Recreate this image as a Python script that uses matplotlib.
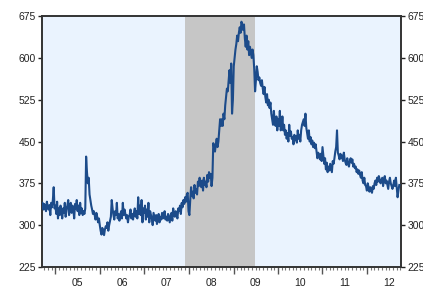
import matplotlib
matplotlib.use("Agg")
import matplotlib.pyplot as plt
import matplotlib.dates as mdates
import pandas as pd
import numpy as np

# Weekly initial claims (thousands), starting week of 2004-09-04
claims_2004 = [345, 335, 340, 328, 338, 330, 325, 342, 333, 328, 336, 318, 340, 332, 345, 368, 330]
claims_2005 = [335, 320, 342, 312, 330, 318, 335, 325, 312, 330, 322, 340, 315,
               328, 335, 345, 318, 330, 340, 322, 335, 328, 312, 338, 330, 345,
               325, 335, 318, 340, 322, 330, 318, 325, 320, 330, 423, 395, 375,
               385, 355, 345, 335, 328, 320, 325, 318, 310, 322, 315, 305, 312]
claims_2006 = [300, 290, 283, 295, 288, 282, 292, 298, 295, 305, 290, 300, 308,
               315, 345, 330, 318, 310, 325, 318, 340, 312, 320, 308, 318, 325,
               312, 340, 318, 328, 320, 312, 318, 305, 315, 318, 328, 312, 320,
               310, 322, 330, 315, 325, 312, 350, 320, 335, 318, 345, 305, 330]
claims_2007 = [322, 335, 310, 328, 315, 340, 305, 325, 318, 312, 300, 322, 315,
               308, 318, 302, 312, 320, 305, 315, 310, 322, 312, 318, 325, 310,
               315, 308, 320, 312, 305, 318, 322, 308, 330, 320, 315, 325, 318,
               312, 330, 325, 335, 320, 340, 332, 345, 338, 350, 342, 355, 358]
claims_2008 = [325, 318, 345, 368, 352, 360, 348, 372, 358, 365, 355, 378, 370,
               385, 372, 368, 380, 362, 385, 372, 378, 368, 390, 378, 395, 385,
               392, 370, 385, 447, 440, 432, 445, 455, 440, 450, 470, 490, 478,
               490, 478, 500, 490, 515, 530, 545, 540, 560, 578, 555, 590, 500]
claims_2009 = [525, 585, 600, 615, 625, 640, 630, 645, 655, 645, 665, 660, 650,
               660, 635, 620, 640, 615, 630, 605, 620, 610, 600, 615, 605, 580,
               540, 560, 585, 575, 560, 565, 555, 550, 560, 545, 535, 548, 530,
               520, 535, 515, 525, 510, 520, 500, 490, 480, 505, 485, 478, 495]
claims_2010 = [470, 490, 478, 505, 470, 475, 495, 470, 480, 462, 470, 455, 465,
               450, 480, 460, 468, 455, 458, 445, 462, 452, 460, 448, 470, 455,
               462, 450, 470, 480, 485, 490, 478, 500, 475, 465, 455, 470, 450,
               458, 445, 452, 440, 448, 438, 445, 432, 420, 430, 425, 418, 428]
claims_2011 = [415, 440, 425, 410, 420, 400, 412, 395, 405, 398, 410, 402, 395,
               415, 410, 420, 432, 440, 470, 430, 425, 418, 428, 420, 425, 415,
               430, 418, 412, 408, 420, 410, 405, 415, 420, 412, 418, 405, 410,
               402, 405, 395, 400, 392, 398, 390, 385, 395, 380, 375, 385, 372]
claims_2012 = [370, 362, 375, 368, 360, 368, 362, 358, 370, 365, 375, 380, 372,
               385, 378, 388, 382, 375, 380, 385, 370, 382, 388, 375, 380, 372,
               365, 378, 385, 375, 370, 365, 372, 380, 370, 385, 368, 350, 362, 372]

claims = (claims_2004 + claims_2005 + claims_2006 + claims_2007 + claims_2008 +
          claims_2009 + claims_2010 + claims_2011 + claims_2012)
start_week = "2004-09-04"
recession = ("2007-12-01", "2009-06-30")
year_labels = ["05", "06", "07", "08", "09", "10", "11", "12"]
y_ticks = [225, 300, 375, 450, 525, 600, 675]

dates = pd.date_range(start_week, periods=len(claims), freq="W-SAT")

plt.rcParams["font.family"] = ["Liberation Sans", "DejaVu Sans"]
fig = plt.figure(figsize=(4.23, 2.93), dpi=100)
ax = fig.add_axes([0.099, 0.089, 0.849, 0.856])
ax.set_facecolor("#eaf3fe")

ax.axvspan(pd.Timestamp(recession[0]), pd.Timestamp(recession[1]),
           color="#c6c6c6", lw=0, zorder=1)
ax.plot(dates, claims, color="#1c4b8a", lw=1.5, zorder=3)

ax.set_xlim(pd.Timestamp("2004-09-12"), pd.Timestamp("2012-10-06"))
ax.set_ylim(225, 675)

ax.set_yticks(y_ticks)
ax.tick_params(axis="y", which="both", direction="out", length=3, width=1,
               labelsize=7.5, colors="#222222", right=True, labelright=True, pad=1.5)

# x axis: year-boundary major ticks, monthly minor, labels mid-year
ax.xaxis.set_major_locator(mdates.YearLocator())
ax.xaxis.set_minor_locator(mdates.MonthLocator())
ax.xaxis.set_major_formatter(plt.NullFormatter())
ax.tick_params(axis="x", which="major", direction="out", length=5, width=1, colors="#555555")
ax.tick_params(axis="x", which="minor", direction="out", length=2, width=0.8, colors="#777777")
for i, lab in enumerate(year_labels):
    yr = 2005 + i
    ax.text(pd.Timestamp(f"{yr}-07-02"), -0.045, lab, transform=ax.get_xaxis_transform(),
            ha="center", va="top", fontsize=7.5, color="#222222")

for s in ax.spines.values():
    s.set_color("#333333")
    s.set_linewidth(1.4)

fig.savefig("out.png", dpi=100)
